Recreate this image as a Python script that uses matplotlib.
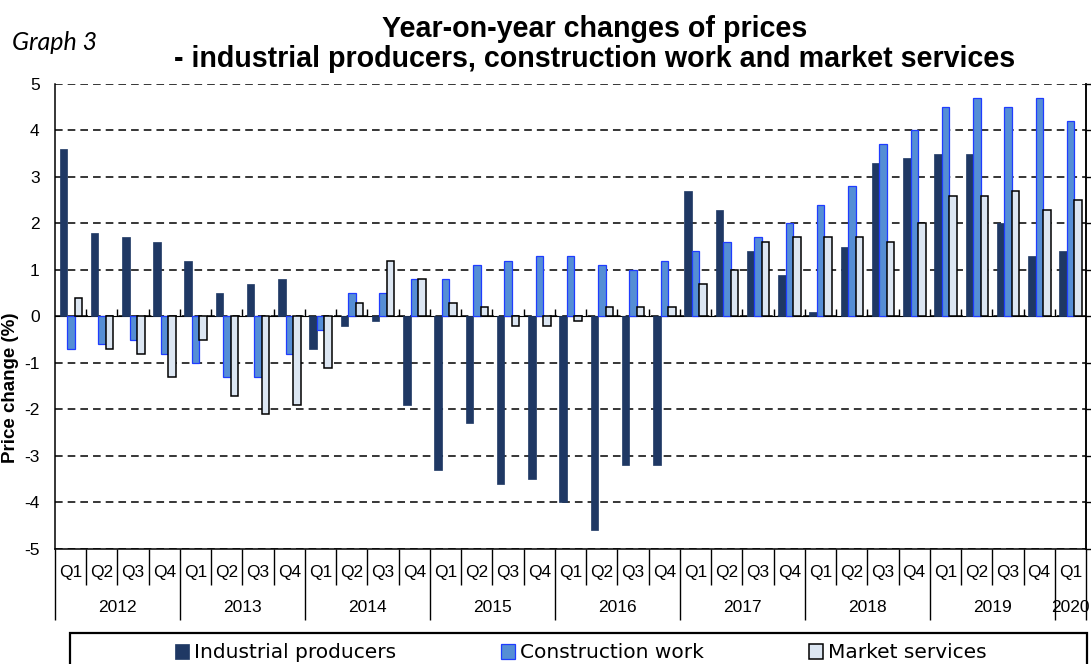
# Year-on-year price changes: industrial producers, construction work, market services

import numpy as np
import matplotlib
matplotlib.use('Agg')
import matplotlib.pyplot as plt
from matplotlib.patches import Rectangle

# Data
years = ['2012', '2013', '2014', '2015', '2016', '2017', '2018', '2019', '2020']
quarters = ['Q1', 'Q2', 'Q3', 'Q4'] * 8 + ['Q1']
industrial = [3.6, 1.8, 1.7, 1.6, 1.2, 0.5, 0.7, 0.8,
              -0.7, -0.2, -0.1, -1.9, -3.3, -2.3, -3.6, -3.5,
              -4.0, -4.6, -3.2, -3.2, 2.7, 2.3, 1.4, 0.9,
              0.1, 1.5, 3.3, 3.4, 3.5, 3.5, 2.0, 1.3, 1.4]
construction = [-0.7, -0.6, -0.5, -0.8, -1.0, -1.3, -1.3, -0.8,
                -0.3, 0.5, 0.5, 0.8, 0.8, 1.1, 1.2, 1.3,
                1.3, 1.1, 1.0, 1.2, 1.4, 1.6, 1.7, 2.0,
                2.4, 2.8, 3.7, 4.0, 4.5, 4.7, 4.5, 4.7, 4.2]
market = [0.4, -0.7, -0.8, -1.3, -0.5, -1.7, -2.1, -1.9,
          -1.1, 0.3, 1.2, 0.8, 0.3, 0.2, -0.2, -0.2,
          -0.1, 0.2, 0.2, 0.2, 0.7, 1.0, 1.6, 1.7,
          1.7, 1.7, 1.6, 2.0, 2.6, 2.6, 2.7, 2.3, 2.5]
series_names = ['Industrial producers', 'Construction work', 'Market services']

plt.rcParams['font.family'] = ['Liberation Sans', 'DejaVu Sans']
plt.rcParams['axes.unicode_minus'] = False

W, H = 1091, 664
fig = plt.figure(figsize=(W / 100, H / 100), dpi=100)
ax = fig.add_axes([55 / W, 1 - 549 / H, (1086 - 55) / W, (549 - 84) / H])

x = np.arange(len(industrial))
bw = 0.24
b1 = ax.bar(x - 0.235, industrial, bw, color='#1F3864', edgecolor='#1F3864', linewidth=0.5,
            label=series_names[0], zorder=3)
b2 = ax.bar(x + 0.005, construction, bw, color='#558ED5', edgecolor='#1F3CFF', linewidth=0.9,
            label=series_names[1], zorder=3)
b3 = ax.bar(x + 0.245, market, bw, color='#DCE6F2', edgecolor='black', linewidth=1.1,
            label=series_names[2], zorder=3)

ax.set_xlim(-0.5, len(x) - 0.5)
ax.set_ylim(-5, 5)
ax.set_yticks(range(-5, 6))
ax.yaxis.grid(True, color='black', linestyle=(0, (5, 3.3)), linewidth=1.1)
ax.set_axisbelow(True)
ax.tick_params(axis='y', left=False, length=0, pad=11, labelsize=12.5)

ax.spines['top'].set_visible(False)
ax.spines['left'].set_linewidth(1.1)
ax.spines['right'].set_linewidth(1.1)
ax.spines['bottom'].set_linewidth(1.1)

# right-side tick marks
sy = ax.secondary_yaxis('right')
sy.set_yticks(range(-5, 6))
sy.set_yticklabels([])
sy.tick_params(direction='out', length=4.5, width=1)
sy.spines['right'].set_linewidth(1.1)

# zero axis with ticks at quarter boundaries
sx = ax.secondary_xaxis(0.5)
sx.set_xticks(np.arange(len(x) - 1) + 0.5)
sx.set_xticklabels([])
sx.tick_params(direction='out', length=5, width=1)
sx.spines['bottom'].set_linewidth(1.6)

# category table below the plot
ax.set_xticks(np.arange(-0.5, len(x), 4).tolist() + [len(x) - 0.5])
ax.set_xticks(np.arange(len(x) + 1) - 0.5, minor=True)
ax.tick_params(axis='x', which='major', direction='out', length=51, width=1, labelbottom=False)
ax.tick_params(axis='x', which='minor', direction='out', length=26, width=1)
ax.set_xticklabels([])
trans = ax.get_xaxis_transform()
for i, q in enumerate(quarters):
    ax.text(i, -24 / 465, q, transform=trans, ha='center', va='center', fontsize=12.5)
for k, yr in enumerate(years):
    first = 4 * k
    last = min(4 * k + 3, len(x) - 1)
    ax.text((first + last) / 2, -59 / 465, yr, transform=trans, ha='center', va='center',
            fontsize=12.5)

# titles and labels
fig.text(595 / W, 1 - 44 / H, 'Year-on-year changes of prices\n'
         '- industrial producers, construction work and market services',
         ha='center', va='center', fontsize=20.6, fontweight='bold', linespacing=1.12)
fig.text(12 / W, 1 - 43 / H, 'Graph 3', ha='left', va='center', fontsize=18,
         style='italic', family=['Lato', 'DejaVu Sans'])
fig.text(11 / W, 1 - 388 / H, 'Price change (%)', rotation=90, ha='center', va='center',
         fontsize=13.5, fontweight='bold')

# legend with a frame running off the bottom
fig.patches.append(Rectangle((70 / W, -0.05), (1087 - 70) / W, 0.05 + 1 - 633 / H,
                             transform=fig.transFigure, fill=False, edgecolor='black',
                             linewidth=1.6))
fig.legend(handles=[b1, b2, b3], loc='center', bbox_to_anchor=(581 / W, 1 - 653 / H),
           ncol=3, frameon=False, handlelength=0.7, handleheight=0.7, handletextpad=0.25,
           columnspacing=5.2, prop={'family': 'DejaVu Sans', 'size': 14.5})

fig.savefig('out.png', dpi=100)
